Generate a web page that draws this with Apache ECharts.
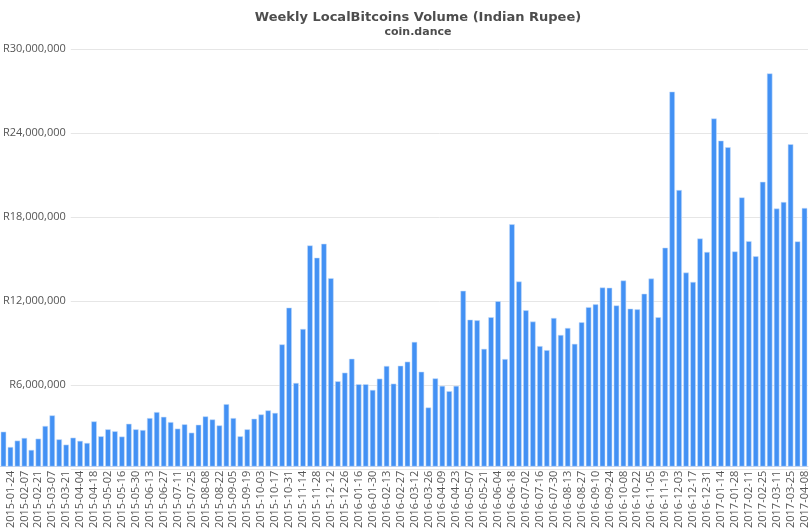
<!DOCTYPE html>
<html>
<head>
<meta charset="utf-8">
<title>Weekly LocalBitcoins Volume (Indian Rupee)</title>
<script src="https://cdn.jsdelivr.net/npm/echarts@6/dist/echarts.min.js"></script>
<style>
  html, body { margin: 0; padding: 0; background: #fff; }
  #chart { width: 812px; height: 531px; }
</style>
</head>
<body>
<div id="chart"></div>
<script>
// week labels (one week is missing in the source between 2015-12-26 and 2016-01-16)
const weeks = [
  '2015-01-17', '2015-01-24', '2015-01-31', '2015-02-07', '2015-02-14', '2015-02-21', '2015-02-28', '2015-03-07',
  '2015-03-14', '2015-03-21', '2015-03-28', '2015-04-04', '2015-04-11', '2015-04-18', '2015-04-25', '2015-05-02',
  '2015-05-09', '2015-05-16', '2015-05-23', '2015-05-30', '2015-06-06', '2015-06-13', '2015-06-20', '2015-06-27',
  '2015-07-04', '2015-07-11', '2015-07-18', '2015-07-25', '2015-08-01', '2015-08-08', '2015-08-15', '2015-08-22',
  '2015-08-29', '2015-09-05', '2015-09-12', '2015-09-19', '2015-09-26', '2015-10-03', '2015-10-10', '2015-10-17',
  '2015-10-24', '2015-10-31', '2015-11-07', '2015-11-14', '2015-11-21', '2015-11-28', '2015-12-05', '2015-12-12',
  '2015-12-19', '2015-12-26', '2016-01-09', '2016-01-16', '2016-01-23', '2016-01-30', '2016-02-06', '2016-02-13',
  '2016-02-20', '2016-02-27', '2016-03-05', '2016-03-12', '2016-03-19', '2016-03-26', '2016-04-02', '2016-04-09',
  '2016-04-16', '2016-04-23', '2016-04-30', '2016-05-07', '2016-05-14', '2016-05-21', '2016-05-28', '2016-06-04',
  '2016-06-11', '2016-06-18', '2016-06-25', '2016-07-02', '2016-07-09', '2016-07-16', '2016-07-23', '2016-07-30',
  '2016-08-06', '2016-08-13', '2016-08-20', '2016-08-27', '2016-09-03', '2016-09-10', '2016-09-17', '2016-09-24',
  '2016-10-01', '2016-10-08', '2016-10-15', '2016-10-22', '2016-10-29', '2016-11-05', '2016-11-12', '2016-11-19',
  '2016-11-26', '2016-12-03', '2016-12-10', '2016-12-17', '2016-12-24', '2016-12-31', '2017-01-07', '2017-01-14',
  '2017-01-21', '2017-01-28', '2017-02-04', '2017-02-11', '2017-02-18', '2017-02-25', '2017-03-04', '2017-03-11',
  '2017-03-18', '2017-03-25', '2017-04-01', '2017-04-08'
]

// volume in INR
const volume = [
  2510000, 1410000, 1870000, 2060000, 1200000, 2010000, 2920000, 3680000,
  1960000, 1580000, 2080000, 1850000, 1700000, 3250000, 2180000, 2680000,
  2540000, 2160000, 3080000, 2680000, 2630000, 3490000, 3920000, 3580000,
  3200000, 2730000, 3040000, 2440000, 3010000, 3610000, 3390000, 2960000,
  4490000, 3490000, 2180000, 2680000, 3440000, 3750000, 4040000, 3860000,
  8780000, 11420000, 6010000, 9890000, 15890000, 15010000, 16010000, 13540000,
  6130000, 6750000, 7750000, 5920000, 5920000, 5510000, 6320000, 7230000,
  5960000, 7250000, 7540000, 8960000, 6820000, 4250000, 6340000, 5800000,
  5420000, 5800000, 12630000, 10560000, 10510000, 8460000, 10730000, 11890000,
  7730000, 17410000, 13300000, 11230000, 10420000, 8660000, 8370000, 10680000,
  9460000, 9960000, 8820000, 10370000, 11460000, 11660000, 12870000, 12850000,
  11580000, 13370000, 11350000, 11300000, 12420000, 13510000, 10730000, 15730000,
  26940000, 19870000, 13940000, 13270000, 16390000, 15420000, 25010000, 23420000,
  22940000, 15460000, 19340000, 16200000, 15110000, 20460000, 28250000, 18540000,
  19010000, 23160000, 16180000, 18580000
]

const yMax = 30000000
const yStep = 6000000

const font = '"Open Sans", "DejaVu Sans", sans-serif'
const titleFont = '"DejaVu Sans", sans-serif'
const chart = echarts.init(document.getElementById('chart'))

chart.setOption({
  animation: false,
  title: {
    text: 'Weekly LocalBitcoins Volume (Indian Rupee)',
    subtext: 'coin.dance',
    left: 413,
    top: 6,
    textAlign: 'center',
    itemGap: 3,
    textStyle: { fontFamily: titleFont, fontSize: 13, fontWeight: 'bold', color: '#4d4d4d' },
    subtextStyle: { fontFamily: titleFont, fontSize: 11, fontWeight: 'bold', color: '#4d4d4d' }
  },
  grid: [
    { left: 0, right: 4, top: 49, bottom: 62 },
    { left: 68, right: 4, top: 49, bottom: 62 }
  ],
  xAxis: [
    {
      type: 'category',
      gridIndex: 0,
      data: weeks,
      axisLine: { lineStyle: { color: '#ccd6eb' } },
      axisTick: { show: false },
      axisLabel: {
        rotate: 90,
        margin: 4,
        interval: (i) => i % 2 === 1,
        color: '#555',
        fontFamily: font,
        fontSize: 11
      }
    },
    { type: 'value', gridIndex: 1, show: false }
  ],
  yAxis: [
    {
      type: 'value',
      gridIndex: 0,
      min: 0,
      max: yMax,
      interval: yStep,
      show: false
    },
    {
      type: 'value',
      gridIndex: 1,
      min: 0,
      max: yMax,
      interval: yStep,
      axisLine: { show: false },
      axisTick: { show: false },
      splitLine: { lineStyle: { color: '#e6e6e6' } },
      axisLabel: {
        showMinLabel: false,
        margin: 5,
        color: '#555',
        fontFamily: font,
        fontSize: 11,
        formatter: (v) => 'R' + v.toLocaleString('en-US')
      }
    }
  ],
  series: [
    {
      type: 'bar',
      xAxisIndex: 0,
      yAxisIndex: 0,
      data: volume,
      barCategoryGap: '20%',
      itemStyle: {
        color: '#4391f4',
        borderColor: 'rgba(200,222,250,0.9)',
        borderWidth: 0.6
      }
    }
  ]
})
</script>
</body>
</html>
